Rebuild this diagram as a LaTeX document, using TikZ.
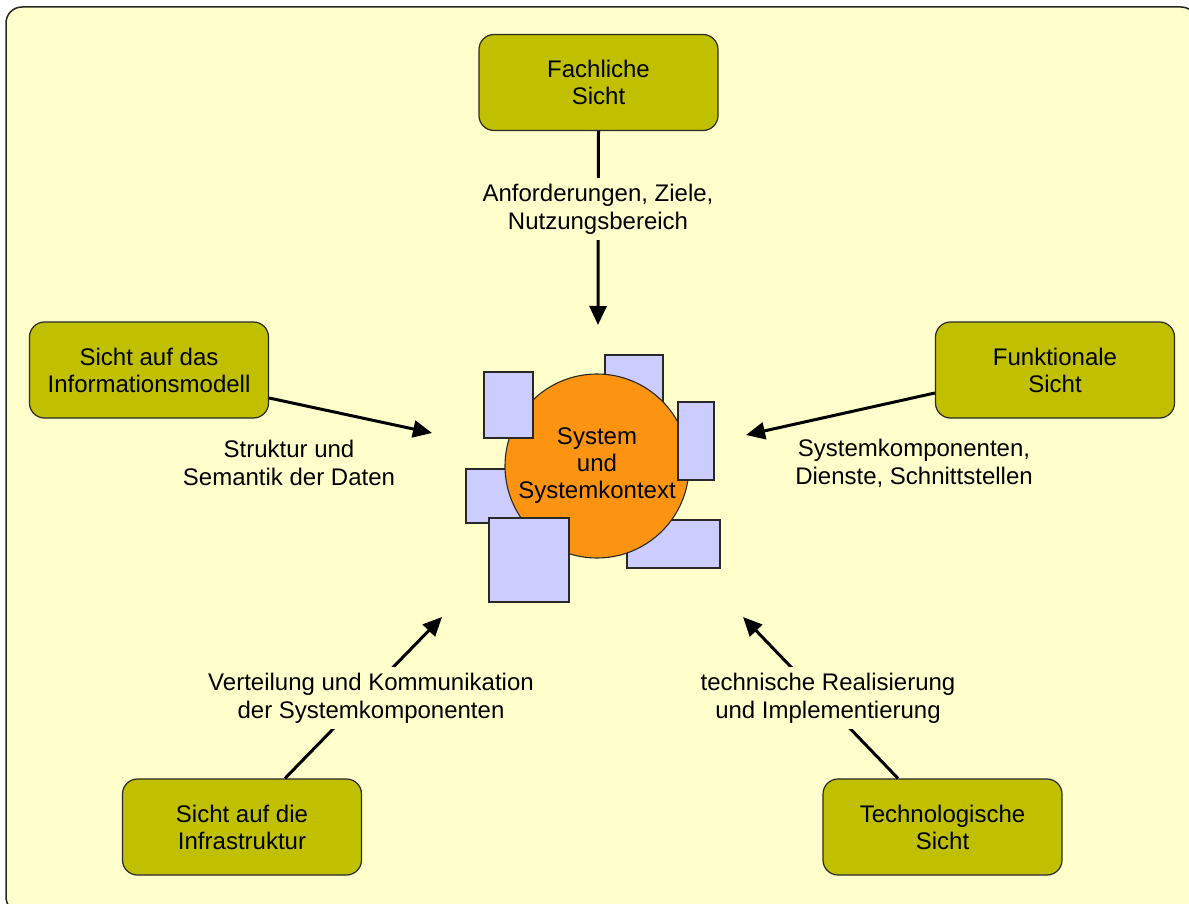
\documentclass[tikz,border=0pt]{standalone}
\usepackage{fontspec}
\setmainfont{Liberation Sans}
\usetikzlibrary{arrows.meta}
\definecolor{paper}{RGB}{255,255,204}
\definecolor{viewfill}{RGB}{192,192,0}
\definecolor{corefill}{RGB}{252,148,18}
\definecolor{partfill}{RGB}{204,204,255}
\definecolor{edge}{RGB}{40,40,40}

\begin{document}
\begin{tikzpicture}[x=1pt,y=-1pt,
  view/.style={draw=edge, line width=1.2pt, fill=viewfill, rounded corners=15pt,
    minimum width=239pt, minimum height=96pt, align=center, inner sep=0pt,
    font=\fontsize{24}{27}\selectfont},
  part/.style={draw=edge, line width=1.1pt, fill=partfill},
  lbl/.style={align=center, inner sep=6pt, font=\fontsize{24}{28}\selectfont},
  gap/.style={lbl, fill=paper},
  flow/.style={line width=3pt, -{Triangle[length=19pt,width=17pt]}},
]
\useasboundingbox (0,0) rectangle (1189,904);

% sheet
\begin{scope}
  \clip (0,0) rectangle (1189,904);
  \draw[draw=edge, line width=1.5pt, fill=paper, rounded corners=16pt]
    (6,7) rectangle (1197,913);
\end{scope}

% the five views
\node[view] (fach)  at (598.5,82.5) {Fachliche\\Sicht};
\node[view] (info)  at (149,370)    {Sicht auf das\\Informationsmodell};
\node[view] (funk)  at (1055,370)   {Funktionale\\Sicht};
\node[view] (infra) at (242,827)    {Sicht auf die\\Infrastruktur};
\node[view] (tech)  at (942.5,827)  {Technologische\\Sicht};

% components behind the system
\draw[part] (605,355) rectangle (663,420);
\draw[part] (466,469) rectangle (535,523);
\draw[part] (627,520) rectangle (720,568);

% system core
\node[circle, draw=edge, line width=1.1pt, fill=corefill, minimum size=184pt,
      align=center, inner sep=0pt, font=\fontsize{24}{27}\selectfont]
  (sys) at (597,466) {System\\und\\Systemkontext};

% components in front of the system
\draw[part] (484,372) rectangle (533,438);
\draw[part] (678,402) rectangle (714,480);
\draw[part] (489,518) rectangle (569,602);

% arrow targets around the core
\coordinate (tfach)  at (598,325);
\coordinate (tinfo)  at (432,433);
\coordinate (tfunk)  at (746,435);
\coordinate (tinfra) at (442,617);
\coordinate (ttech)  at (743,617);

% connectors
\draw[flow] (fach.south) -- (tfach);
\draw[flow] ([yshift=-28pt]info.east) -- (tinfo);
\draw[flow] ([yshift=-23pt]funk.west) -- (tfunk);
\draw[flow] ([xshift=43pt]infra.north) -- (tinfra);
\draw[flow] ([xshift=-44.5pt]tech.north) -- (ttech);

% connector labels
\node[gap] (lfach)  at (598,209) {Anforderungen, Ziele,\\Nutzungsbereich};
\node[lbl] (linfo)  at (289,463) {Struktur und\\Semantik der Daten};
\node[lbl] (lfunk)  at (914,463) {Systemkomponenten,\\Dienste, Schnittstellen};
\node[gap] (linfra) at (371,698) {Verteilung und Kommunikation\\der Systemkomponenten};
\node[gap] (ltech)  at (828,698) {technische Realisierung\\und Implementierung};
\end{tikzpicture}
\end{document}
